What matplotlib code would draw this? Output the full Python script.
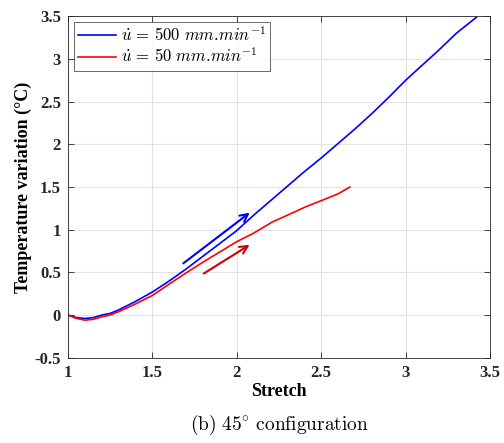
import matplotlib
matplotlib.use("Agg")
import matplotlib.pyplot as plt

plt.rcParams['mathtext.fontset'] = 'cm'

# Data
stretch_fast = [1.0, 1.05, 1.1, 1.15, 1.2, 1.25, 1.3, 1.4, 1.5, 1.6, 1.7, 1.8, 1.9, 2.0, 2.1,
                2.2, 2.3, 2.4, 2.5, 2.6, 2.7, 2.8, 2.9, 3.0, 3.1, 3.2, 3.3, 3.42]
temp_fast = [0.0, -0.03, -0.04, -0.03, 0.0, 0.02, 0.06, 0.16, 0.27, 0.40, 0.54, 0.69, 0.84,
             0.99, 1.17, 1.34, 1.51, 1.68, 1.84, 2.01, 2.18, 2.36, 2.55, 2.75, 2.93, 3.11,
             3.30, 3.49]

stretch_slow = [1.0, 1.05, 1.1, 1.15, 1.2, 1.25, 1.3, 1.4, 1.5, 1.62, 1.72, 1.82, 1.9, 2.0,
                2.1, 2.21, 2.3, 2.41, 2.5, 2.6, 2.67]
temp_slow = [0.0, -0.04, -0.06, -0.05, -0.02, 0.0, 0.04, 0.13, 0.23, 0.39, 0.52, 0.645, 0.74,
             0.86, 0.96, 1.09, 1.17, 1.27, 1.34, 1.42, 1.50]

label_fast = r'$\dot{u}\,=\,500\ mm.\!min^{-1}$'
label_slow = r'$\dot{u}\,=\,50\ mm.\!min^{-1}$'

xticks = [1, 1.5, 2, 2.5, 3, 3.5]
xticklabels = ['1', '1.5', '2', '2.5', '3', '3.5']
yticks = [-0.5, 0, 0.5, 1, 1.5, 2, 2.5, 3, 3.5]
yticklabels = ['-0.5', '0', '0.5', '1', '1.5', '2', '2.5', '3', '3.5']

fig = plt.figure(figsize=(5.04, 4.43), dpi=100)
ax = fig.add_axes([0.135, 0.1925, 0.837, 0.7705])

ax.plot(stretch_fast, temp_fast, color=(0, 0, 1), lw=1.2, label=label_fast)
ax.plot(stretch_slow, temp_slow, color=(1, 0, 0), lw=1.2, label=label_slow)

# direction arrows
ax.annotate('', xy=(2.09, 1.22), xytext=(1.67, 0.586),
            arrowprops=dict(arrowstyle='->', color=(0, 0, 1), lw=1.5, mutation_scale=14))
ax.annotate('', xy=(2.09, 0.84), xytext=(1.79, 0.469),
            arrowprops=dict(arrowstyle='->', color=(0.8, 0, 0), lw=1.5, mutation_scale=14))

ax.set_xlim(1, 3.5)
ax.set_ylim(-0.5, 3.5)
ax.set_xticks(xticks)
ax.set_xticklabels(xticklabels, fontfamily='Liberation Serif', fontweight='bold', fontsize=12)
ax.set_yticks(yticks)
ax.set_yticklabels(yticklabels, fontfamily='Liberation Serif', fontweight='bold', fontsize=12)
ax.tick_params(direction='in', top=True, right=True, length=4, width=0.6, colors='#262626',
               pad=5)
ax.grid(True, color='#e3e3e3', lw=0.8)
ax.set_axisbelow(True)
for s in ax.spines.values():
    s.set_color('#262626')
    s.set_linewidth(0.6)

ax.set_xlabel('Stretch', fontfamily='Liberation Serif', fontweight='bold', fontsize=13, labelpad=2)
ax.set_ylabel('Temperature variation (°C)', fontfamily='Liberation Serif', fontweight='bold',
              fontsize=13, labelpad=2)

leg = ax.legend(loc='upper left', fontsize=12, frameon=True, fancybox=False,
                edgecolor='#262626', handlelength=2.3, borderpad=0.25, labelspacing=0.15,
                handletextpad=0.3, borderaxespad=0.35)
leg.get_frame().set_linewidth(0.6)

fig.text(0.555, 0.04, r'$\mathrm{(b)\ 45^{\circ}\ configuration}$', ha='center', va='center',
         fontsize=14)

fig.savefig('out.png', dpi=100)
